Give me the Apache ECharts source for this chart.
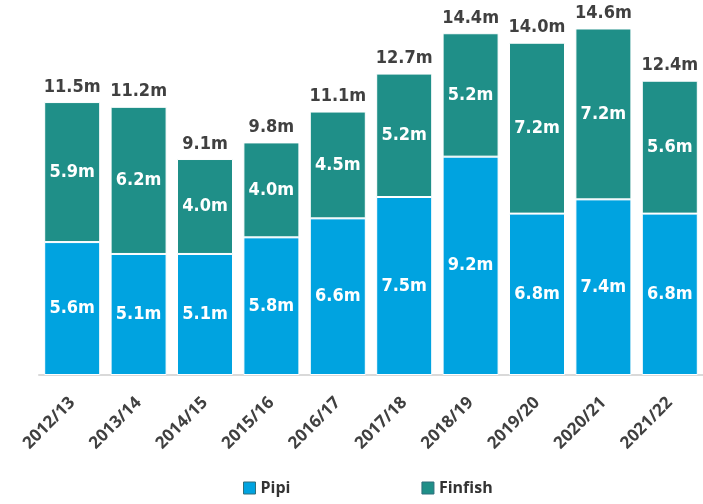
<!DOCTYPE html>
<html>
<head>
<meta charset="utf-8">
<script src="https://cdn.jsdelivr.net/npm/echarts@6/dist/echarts.min.js"></script>
<style>
    html, body { margin: 0; padding: 0; background: #fff; }
    #main { width: 703px; height: 504px; }
</style>
</head>
<body>
<div id="main"></div>
<script>
    var seasons = ['2012/13', '2013/14', '2014/15', '2015/16', '2016/17', '2017/18', '2018/19', '2019/20', '2020/21', '2021/22'];
    var pipi = [5.6, 5.1, 5.1, 5.8, 6.6, 7.5, 9.2, 6.8, 7.4, 6.8];
    var finfish = [5.9, 6.2, 4.0, 4.0, 4.5, 5.2, 5.2, 7.2, 7.2, 5.6];
    var totals = [11.5, 11.2, 9.1, 9.8, 11.1, 12.7, 14.4, 14.0, 14.6, 12.4];

    var FONT = 'DejaVu Sans Condensed';
    var inner = {
        show: true,
        position: 'inside',
        color: '#fff',
        fontFamily: FONT,
        fontWeight: 'bold',
        fontSize: 18,
        formatter: function (p) { return p.value.toFixed(1) + 'm'; }
    };

    var option = {
        animation: false,
        grid: { left: 39, right: -5, top: 19, bottom: 129 },
        legend: {
            left: 243,
            top: 480,
            padding: 0,
            itemWidth: 12,
            itemHeight: 12,
            itemGap: 131,
            icon: 'rect',
            textStyle: { fontFamily: 'Open Sans', fontWeight: 'bold', fontSize: 16, color: '#333' },
            data: [
                { name: 'Pipi', itemStyle: { color: '#00a3e0', borderColor: '#2f6f7c', borderWidth: 1 } },
                { name: 'Finfish', itemStyle: { color: '#1f8f88', borderColor: '#2f6f7c', borderWidth: 1 } }
            ]
        },
        xAxis: {
            type: 'category',
            data: seasons,
            axisLine: { lineStyle: { color: '#d9d9d9', width: 2 } },
            axisTick: { show: false },
            axisLabel: {
                rotate: 45,
                margin: 25,
                color: '#404040',
                fontFamily: 'Open Sans',
                fontWeight: 'bold',
                fontSize: 17
            }
        },
        yAxis: { type: 'value', min: 0, max: 15, show: false, splitLine: { show: false } },
        series: [
            {
                name: 'Pipi', type: 'bar', stack: 'all', barWidth: 56,
                itemStyle: { color: '#00a3e0', borderColor: '#fff', borderWidth: 1 },
                label: inner,
                data: pipi
            },
            {
                name: 'Finfish', type: 'bar', stack: 'all', barWidth: 56,
                itemStyle: { color: '#1f8f88', borderColor: '#fff', borderWidth: 1 },
                label: inner,
                data: finfish
            },
            {
                name: 'Total', type: 'bar', stack: 'all', barWidth: 56,
                itemStyle: { color: 'transparent', borderWidth: 0 },
                label: {
                    show: true,
                    position: 'top',
                    distance: 6,
                    color: '#404040',
                    fontFamily: FONT,
                    fontWeight: 'bold',
                    fontSize: 18,
                    formatter: function (p) { return totals[p.dataIndex].toFixed(1) + 'm'; }
                },
                data: totals.map(function () { return 0; })
            }
        ]
    };

    var myChart = echarts.init(document.getElementById('main'));
    myChart.setOption(option);
</script>
</body>
</html>
